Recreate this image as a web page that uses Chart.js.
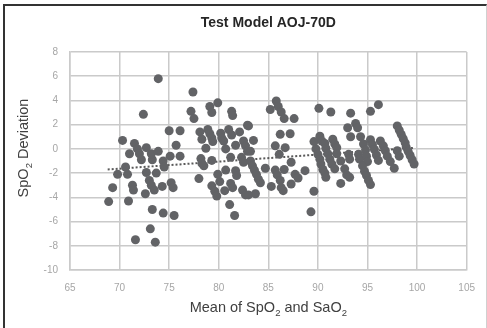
<!DOCTYPE html>
<html lang="en">
<head>
<meta charset="UTF-8">
<title>Test Model AOJ-70D</title>
<style>
    body {
        margin: 0;
        padding: 0;
        background-color: #fff;
    }
    .frame {
        position: absolute;
        left: 3px;
        top: 4px;
        width: 481px;
        height: 330px;
        border-left: 2px solid #333;
        border-top: 2px solid #333;
        border-right: 1px solid #d0d0d0;
    }
    #chart {
        position: absolute;
        left: 0;
        top: 0;
    }
</style>
</head>
<body>
<div class="frame"></div>
<canvas id="chart" width="487" height="328"></canvas>
<script src="https://cdn.jsdelivr.net/npm/chart.js"></script>
<script>
// [mean of SpO2 and SaO2, SpO2 deviation]
const lowRange = [
    [68.9, -4.35], [69.3, -3.2], [69.8, -2.1], [70.6, -1.5], [70.8, -2.1], [70.9, -4.3],
    [71.3, -3.0], [71.4, -3.4], [70.3, 0.7], [71.5, 0.45], [71.8, 0.0], [72.0, -0.4],
    [72.2, -0.9], [71.0, -0.4], [72.7, 0.1], [73.3, -0.9], [73.2, -0.4], [72.7, -1.95],
    [73.0, -2.6], [73.2, -3.0], [73.5, -3.4], [72.6, -3.7], [73.3, -5.0], [73.1, -6.6],
    [71.6, -7.5], [73.6, -7.7], [73.9, 5.8], [72.4, 2.85], [73.9, -0.2], [74.4, -1.0],
    [74.5, -1.5], [73.7, -2.0], [74.3, -3.1], [75.0, 1.5], [76.1, 1.5], [75.7, 0.3],
    [75.1, -0.6], [76.1, -0.6], [75.2, -2.8], [75.4, -3.2], [74.4, -5.3], [75.5, -5.5]
];
const midRange = [
    [77.4, 4.7], [77.2, 3.1], [77.5, 2.5], [79.1, 3.5], [79.3, 3.0], [79.9, 3.8],
    [81.3, 3.1], [81.4, 2.75], [78.1, 1.4], [78.3, 0.8], [78.9, 1.6], [79.1, 1.25],
    [79.3, 0.9], [79.4, 0.6], [80.2, 1.3], [80.3, 0.9], [80.5, 0.65], [81.0, 1.6],
    [81.3, 1.15], [82.1, 1.4], [82.9, 1.95], [81.7, 0.3], [82.5, 0.65], [82.7, 0.25],
    [83.5, 0.7], [78.7, 0.05], [80.7, 0.0], [82.9, -0.2], [78.2, -0.8], [78.3, -1.2],
    [78.5, -1.4], [79.3, -0.95], [81.2, -0.7], [82.3, -0.7], [82.5, -1.1], [80.7, -1.75],
    [79.9, -2.1], [80.1, -2.7], [78.0, -2.45], [79.3, -3.05], [79.6, -3.5], [79.8, -3.9],
    [80.6, -3.45], [81.2, -2.85], [81.4, -3.2], [81.7, -1.8], [81.8, -2.2], [82.4, -3.4],
    [82.7, -3.8], [81.1, -4.6], [81.6, -5.5], [83.2, -1.0], [83.4, -1.4], [83.6, -1.75],
    [83.8, -2.1], [84.0, -2.5], [84.2, -2.8], [83.7, -3.7], [83.0, -3.8], [84.7, -1.6],
    [83.0, 1.9], [83.2, -0.2]
];
const upperRange = [
    [85.2, 3.25], [85.8, 3.95], [86.0, 3.5], [86.3, 3.05], [86.6, 2.5], [87.6, 2.5],
    [86.2, 1.2], [87.2, 1.25], [85.7, 0.25], [86.7, 0.1], [86.1, -0.45], [85.7, -1.75],
    [85.9, -2.15], [86.2, -2.6], [86.6, -1.7], [87.3, -1.1], [85.3, -3.1], [86.3, -3.2],
    [86.5, -3.45], [87.3, -2.9], [87.7, -2.1], [88.0, -2.4], [88.7, -1.8], [89.6, -3.5],
    [89.3, -5.2], [90.1, 3.35], [91.3, 3.05], [90.2, 1.05], [89.6, 0.6], [90.4, 0.65],
    [90.7, 0.45], [91.5, 0.8], [91.7, 0.4], [91.9, 0.1], [89.8, 0.0], [90.0, -0.45],
    [90.2, -0.85], [90.3, -1.25], [90.5, -1.7], [90.7, -2.0], [90.8, -2.35], [90.8, 0.05],
    [91.0, -0.4], [91.2, -0.85], [91.4, -1.25], [91.7, -1.65], [91.9, -0.4], [92.3, -1.0],
    [92.7, -1.65], [92.9, -2.15], [92.3, -2.85], [93.1, -0.45], [93.2, -0.85]
];
const topRange = [
    [93.3, 2.95], [95.3, 3.1], [96.1, 3.65], [93.0, 1.75], [93.8, 2.1], [94.0, 1.75],
    [93.3, 1.0], [94.3, 1.0], [94.1, -0.45], [94.2, -0.85], [93.2, -2.35], [94.6, 0.4],
    [94.8, -0.1], [94.9, -0.6], [95.0, -1.05], [94.5, -1.4], [94.7, -1.85], [94.9, -2.2],
    [95.1, -2.6], [95.3, -2.95], [95.3, 0.75], [95.5, 0.35], [95.7, -0.05], [95.9, -0.5],
    [96.1, -0.95], [96.3, 0.65], [96.6, 0.25], [96.8, -0.15], [97.0, -0.6], [97.3, -1.05],
    [97.7, -1.6], [98.0, -0.15], [98.2, -0.6], [98.0, 1.9], [98.2, 1.55], [98.4, 1.2],
    [98.6, 0.85], [98.8, 0.5], [98.9, 0.15], [99.1, -0.2], [99.3, -0.55], [99.5, -0.9],
    [99.7, -1.25]
];
const trendMean = [68.8, 99.7];
const trendDev = [-1.7, 0.09];
const xTicks = [65, 70, 75, 80, 85, 90, 95, 100, 105];
const yTicks = [-10, -8, -6, -4, -2, 0, 2, 4, 6, 8];

const chartTitle = 'Test Model AOJ-70D';
const xTitle = [['Mean of SpO', false], ['2', true], [' and SaO', false], ['2', true]];
const yTitle = [['SpO', false], ['2', true], [' Deviation', false]];

const FONT = '"Liberation Sans", Arial, sans-serif';

function drawSub(ctx, parts, x, y) {
    const big = '14.5px ' + FONT, small = '9.5px ' + FONT;
    let total = 0;
    parts.forEach(p => {
        ctx.font = p[1] ? small : big;
        total += ctx.measureText(p[0]).width;
    });
    let cx = x - total / 2;
    ctx.textAlign = 'left';
    ctx.textBaseline = 'alphabetic';
    parts.forEach(p => {
        ctx.font = p[1] ? small : big;
        ctx.fillText(p[0], cx, p[1] ? y + 4 : y);
        cx += ctx.measureText(p[0]).width;
    });
}

const textPlugin = {
    id: 'texts',
    afterDraw(chart) {
        const ctx = chart.ctx, a = chart.chartArea;
        ctx.save();
        ctx.fillStyle = '#262626';
        ctx.font = 'bold 14px ' + FONT;
        ctx.textAlign = 'center';
        ctx.textBaseline = 'alphabetic';
        ctx.fillText(chartTitle, (a.left + a.right) / 2, 27);
        ctx.fillStyle = '#404040';
        drawSub(ctx, xTitle, (a.left + a.right) / 2, 312);
        ctx.translate(28, 148);
        ctx.rotate(-Math.PI / 2);
        drawSub(ctx, yTitle, 0, 0);
        ctx.restore();
    }
};

const toPoints = arr => arr.map(p => ({ x: p[0], y: p[1] }));
const allPoints = [].concat(toPoints(lowRange), toPoints(midRange), toPoints(upperRange), toPoints(topRange));

new Chart(document.getElementById('chart'), {
    type: 'scatter',
    data: {
        datasets: [{
            data: allPoints,
            pointRadius: 4.5,
            pointBackgroundColor: '#626366',
            pointBorderWidth: 0,
            pointHoverRadius: 4.5
        }, {
            type: 'line',
            data: trendMean.map((x, i) => ({ x: x, y: trendDev[i] })),
            borderColor: '#595959',
            borderWidth: 2,
            borderDash: [2, 2],
            pointRadius: 0,
            fill: false
        }]
    },
    options: {
        responsive: false,
        animation: false,
        devicePixelRatio: 1,
        layout: { padding: { left: 0, right: 13, top: 52, bottom: 0 } },
        plugins: {
            legend: { display: false },
            tooltip: { enabled: false }
        },
        scales: {
            x: {
                type: 'linear',
                min: 65,
                max: 105,
                afterBuildTicks: s => { s.ticks = xTicks.map(v => ({ value: v })); },
                afterFit: s => { s.height = 58; },
                grid: { color: '#cacaca', lineWidth: 1.5, drawTicks: false },
                border: { color: '#cacaca', width: 1.5 },
                ticks: { color: '#a6a6a6', font: { size: 10, family: FONT }, padding: 12 }
            },
            y: {
                type: 'linear',
                min: -10,
                max: 8,
                afterBuildTicks: s => { s.ticks = yTicks.map(v => ({ value: v })); },
                afterFit: s => { s.width = 70; },
                grid: { color: '#cacaca', lineWidth: 1.5, drawTicks: false },
                border: { color: '#cacaca', width: 1.5 },
                ticks: { color: '#a6a6a6', font: { size: 10, family: FONT }, padding: 12 }
            }
        }
    },
    plugins: [textPlugin]
});
</script>
</body>
</html>
